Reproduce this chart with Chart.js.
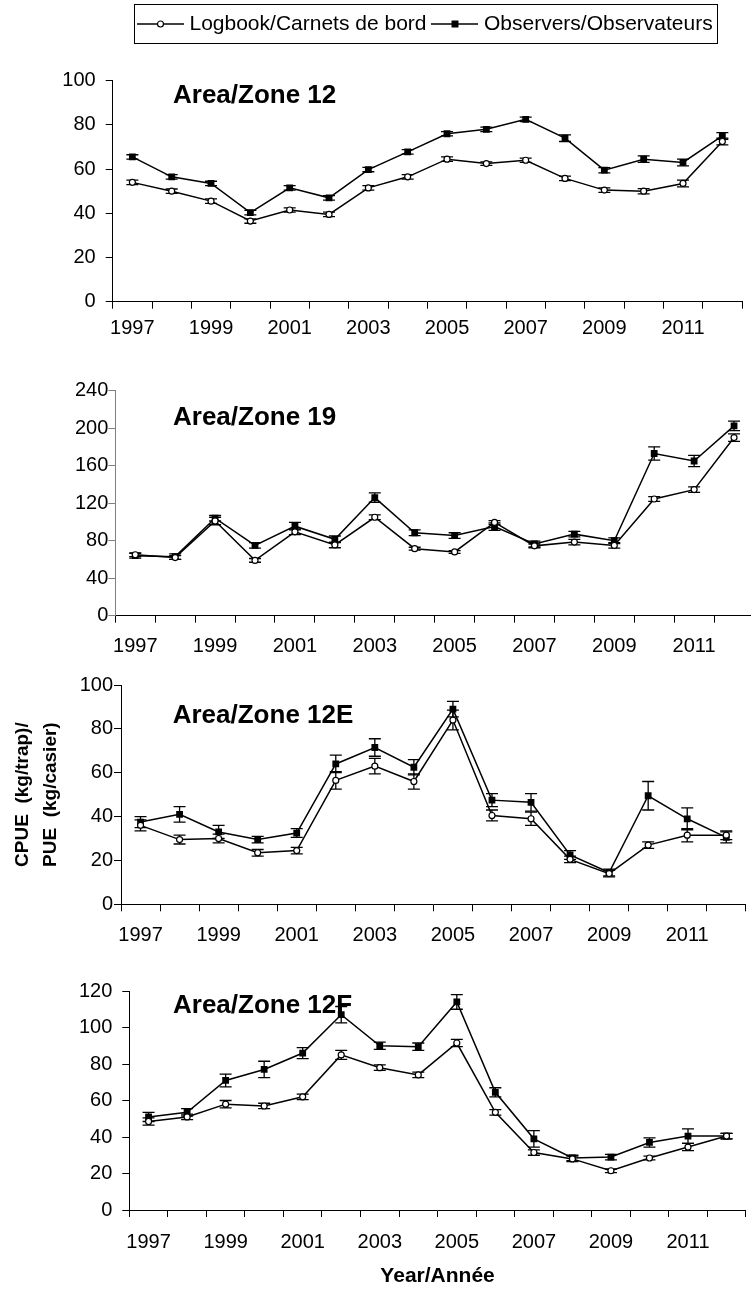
<!DOCTYPE html>
<html><head><meta charset="utf-8">
<script src="https://cdn.jsdelivr.net/npm/chart.js@4/dist/chart.umd.min.js"></script>
<style>
html,body{margin:0;padding:0;background:#fff;overflow:hidden;width:751px;height:1289px;}
.panel{position:absolute;left:0;}
canvas{display:block;}
</style></head><body>
<div class="panel" style="top:0px"><canvas id="c1" width="751" height="350"></canvas></div>
<div class="panel" style="top:350px"><canvas id="c2" width="760" height="310"></canvas></div>
<div class="panel" style="top:660px"><canvas id="c3" width="751" height="290"></canvas></div>
<div class="panel" style="top:950px"><canvas id="c4" width="751" height="339"></canvas></div>
<script>
// ---- data ----
const years = ['1997','1998','1999','2000','2001','2002','2003','2004','2005','2006','2007','2008','2009','2010','2011','2012'];
const shownYears = ['1997','1999','2001','2003','2005','2007','2009','2011'];
const seriesNames = ['Logbook/Carnets de bord', 'Observers/Observateurs'];
const panelTitles = ['Area/Zone 12', 'Area/Zone 19', 'Area/Zone 12E', 'Area/Zone 12F'];
const yAxisTitle = ['CPUE  (kg/trap)/', 'PUE  (kg/casier)'];
const xAxisTitle = 'Year/Année';

const log12 = [54, 50, 45.5, 36.5, 41.5, 39.5, 51.5, 56.5, 64.5, 62.5, 64, 55.8, 50.5, 50, 53.5, 72.5];
const obs12 = [65.5, 56.5, 53.5, 40.3, 51.5, 47, 59.8, 67.8, 76, 78, 82.5, 74, 59.5, 64.5, 63, 75];
const logErr12 = [1, 1, 1, 1, 1, 1, 1, 1, 1, 0.8, 1, 1, 1, 1.2, 1.5, 1.5];
const obsErr12 = [1, 1, 1, 1, 1, 1, 1, 1, 1, 1, 1, 1.5, 1.2, 1.5, 1.5, 1.5];

const log19 = [65, 62, 101, 59, 89.5, 75.5, 105, 71.5, 68, 99.5, 74.5, 78.5, 75, 124.5, 134.5, 190];
const obs19 = [64, 63, 104, 75, 95.5, 81.5, 126, 88.5, 85.5, 95, 76.5, 87, 80, 173, 165, 202.5];
const logErr19 = [2, 2, 4, 2, 3, 3, 2.5, 1.5, 1.5, 2, 2, 3, 3, 2.5, 3, 4];
const obsErr19 = [2.5, 3, 3, 3, 4, 3.5, 5, 3, 3, 4, 3, 3, 3, 7, 6, 5];

const log12E = [36, 29.5, 30, 23.5, 24.5, 56.5, 63, 56, 84, 40.5, 39, 20.5, 14, 27, 31.5, 31.5];
const obs12E = [37.5, 41, 33, 29.5, 32.5, 64, 71.5, 62.5, 89, 47.5, 46.5, 22.5, 14.5, 49.5, 39, 30.5];
const logErr12E = [2.5, 2, 2, 1.5, 1.5, 4, 3.5, 3.5, 4.5, 2.5, 3, 1.5, 1.5, 1.5, 3, 2];
const obsErr12E = [2.5, 3.5, 3, 1.5, 2, 4, 4, 3.5, 3.5, 3, 4, 2, 1.5, 6.5, 5, 2.5];

const log12F = [48.5, 51, 58, 57, 62, 85, 78, 74, 91.5, 53.5, 31.5, 28, 21.5, 28.5, 34.5, 40.5];
const obs12F = [51, 53.5, 71, 77, 86, 107, 90, 89.5, 114, 64.5, 39, 28.5, 29, 37, 40.5, 40.5];
const logErr12F = [2, 1.5, 2, 1.5, 1.5, 2.5, 1.5, 1.5, 2, 1.5, 1.5, 1.5, 1, 1, 2, 1.5];
const obsErr12F = [2.5, 2, 3.5, 4.5, 3, 4.5, 2, 2, 4, 2.5, 4.5, 1.5, 1.5, 2.5, 4, 1.5];

// ---- styling ----
const FONT = '"Liberation Sans", Arial, Helvetica, sans-serif';
Chart.defaults.font.family = FONT;
Chart.defaults.color = '#000';

function makeIcon(kind) {
  const c = document.createElement('canvas');
  c.width = 47; c.height = 14;
  const g = c.getContext('2d');
  g.strokeStyle = '#000'; g.lineWidth = 1.4;
  g.beginPath(); g.moveTo(0, 7); g.lineTo(47, 7); g.stroke();
  if (kind === 'circle') {
    g.fillStyle = '#fff'; g.lineWidth = 1.2;
    g.beginPath(); g.arc(23.5, 7, 3, 0, Math.PI * 2); g.fill(); g.stroke();
  } else {
    g.fillStyle = '#000'; g.fillRect(20, 3.5, 7, 7);
  }
  return c;
}
const legendIcons = [makeIcon('circle'), makeIcon('rect')];

const errorBarPlugin = {
  id: 'errorBars',
  beforeDatasetsDraw(chart) {
    const ctx = chart.ctx, ys = chart.scales.y;
    chart.data.datasets.forEach((ds, i) => {
      if (!ds.errorBars) return;
      const meta = chart.getDatasetMeta(i);
      ctx.save();
      ctx.strokeStyle = '#000'; ctx.lineWidth = 1.3;
      meta.data.forEach((pt, j) => {
        const v = ds.data[j], e = ds.errorBars[j];
        const yt = ys.getPixelForValue(v + e), yb = ys.getPixelForValue(v - e);
        const x = pt.x, hw = 6;
        ctx.beginPath();
        ctx.moveTo(x, yt); ctx.lineTo(x, yb);
        ctx.moveTo(x - hw, yt); ctx.lineTo(x + hw, yt);
        ctx.moveTo(x - hw, yb); ctx.lineTo(x + hw, yb);
        ctx.stroke();
      });
      ctx.restore();
    });
  }
};

const panelLabelPlugin = {
  id: 'panelLabel',
  afterDraw(chart, args, opts) {
    if (!opts || !opts.text) return;
    const {ctx, chartArea} = chart;
    ctx.save();
    ctx.font = 'bold 26px ' + FONT;
    ctx.fillStyle = '#000'; ctx.textBaseline = 'middle'; ctx.textAlign = 'left';
    ctx.fillText(opts.text, chartArea.left + opts.dx, chartArea.top + opts.dy);
    ctx.restore();
  }
};

const legendBoxPlugin = {
  id: 'legendBox',
  beforeUpdate(chart, args, opts) {
    const lg = chart.legend;
    if (lg && !lg._fixedFit) {
      const orig = lg.fit;
      lg.fit = function () { orig.call(this); this.height = opts.height; };
      lg._fixedFit = true;
    }
  },
  afterDraw(chart) {
    const hb = chart.legend && chart.legend.legendHitBoxes;
    if (!hb || !hb.length) return;
    const first = hb[0], last = hb[hb.length - 1];
    const ctx = chart.ctx;
    ctx.save();
    ctx.strokeStyle = '#000'; ctx.lineWidth = 1;
    const l = Math.round(first.left - 8) + 0.5, r = Math.round(last.left + last.width + 4) + 0.5;
    const t = Math.round(first.top - 10) + 0.5, b = Math.round(first.top + first.height + 8) + 0.5;
    ctx.strokeRect(l, t, r - l, b - t);
    ctx.restore();
  }
};

function makeDatasets(logVals, obsVals, logErr, obsErr) {
  return [
    {label: seriesNames[0], data: logVals, errorBars: logErr, borderColor: '#000', borderWidth: 1.5,
     pointStyle: 'circle', pointRadius: 3, pointBackgroundColor: '#fff', pointBorderColor: '#000',
     pointBorderWidth: 1.2, tension: 0, fill: false},
    {label: seriesNames[1], data: obsVals, errorBars: obsErr, borderColor: '#000', borderWidth: 1.5,
     pointStyle: 'rect', pointRadius: 4.8, pointBackgroundColor: '#000', pointBorderColor: '#000',
     pointBorderWidth: 0, tension: 0, fill: false}
  ];
}

function xScale(pad, height, extra) {
  return Object.assign({
    type: 'category', offset: true,
    grid: {offset: true, drawOnChartArea: false, drawTicks: true, tickLength: 7, color: '#000', lineWidth: 1},
    border: {display: true, color: '#000', width: 1},
    ticks: {autoSkip: false, maxRotation: 0, minRotation: 0, padding: pad, font: {size: 20}, color: '#000',
      callback: function (val) { const l = this.getLabelForValue(val); return shownYears.includes(l) ? l : ''; }},
    afterFit: s => { s.height = height; }
  }, extra || {});
}

function yScale(max, step, pad, width, color, extra) {
  return Object.assign({
    type: 'linear', min: 0, max: max,
    ticks: {stepSize: step, padding: pad, font: {size: 20}, color: '#000'},
    grid: {drawOnChartArea: false, drawTicks: true, tickLength: 7, color: color, lineWidth: 1},
    border: {display: true, color: color, width: 1},
    afterFit: s => { s.width = width; }
  }, extra || {});
}

function baseOptions(padding, scales, plugins) {
  return {
    responsive: false, animation: false, events: [],
    layout: {padding: padding},
    scales: scales,
    plugins: Object.assign({legend: {display: false}, tooltip: {enabled: false}}, plugins)
  };
}

Chart.register(errorBarPlugin, panelLabelPlugin);

// Panel 1 with legend
new Chart(document.getElementById('c1'), {
  type: 'line',
  data: {labels: years, datasets: makeDatasets(log12, obs12, logErr12, obsErr12)},
  options: baseOptions({top: 3.5, left: 0, right: 9, bottom: 0},
    {x: xScale(8, 48.3), y: yScale(100, 20, 10, 112.7, '#000')},
    {
      legend: {display: true, position: 'top', fullSize: false,
        labels: {padding: 10, usePointStyle: true, pointStyleWidth: 37, font: {size: 21}, color: '#000',
          generateLabels: (chart) => chart.data.datasets.map((ds, i) => ({
            text: ds.label, pointStyle: legendIcons[i], fillStyle: 'transparent', strokeStyle: 'transparent',
            lineWidth: 0, hidden: false, datasetIndex: i, fontColor: '#000'}))}},
      legendBox: {height: 77.2},
      panelLabel: {text: panelTitles[0], dx: 60.3, dy: 15}
    }),
  plugins: [legendBoxPlugin]
});

// Panel 2
new Chart(document.getElementById('c2'), {
  type: 'line',
  data: {labels: years, datasets: makeDatasets(log19, obs19, logErr19, obsErr19)},
  options: baseOptions({top: 40.7, left: 0, right: 6, bottom: 0},
    {x: xScale(12, 44.3), y: yScale(240, 40, 0, 115.3, '#808080')},
    {panelLabel: {text: panelTitles[1], dx: 57.7, dy: 27.3}})
});

// Panel 3 with y-axis title
new Chart(document.getElementById('c3'), {
  type: 'line',
  data: {labels: years, datasets: makeDatasets(log12E, obs12E, logErr12E, obsErr12E)},
  options: baseOptions({top: 25, left: 0, right: 3, bottom: 0},
    {x: xScale(12, 45.7),
     y: yScale(100, 20, 1, 121, '#000', {title: {display: true, text: yAxisTitle, color: '#000',
        font: {size: 19, weight: 'bold', lineHeight: 1.45}, padding: {top: 9, bottom: 0}}})},
    {panelLabel: {text: panelTitles[2], dx: 51.7, dy: 30.8}})
});

// Panel 4 with x-axis title
new Chart(document.getElementById('c4'), {
  type: 'line',
  data: {labels: years, datasets: makeDatasets(log12F, obs12F, logErr12F, obsErr12F)},
  options: baseOptions({top: 41, left: 0, right: 1, bottom: 0},
    {x: xScale(13, 79, {title: {display: true, text: xAxisTitle, color: '#000',
        font: {size: 21, weight: 'bold'}, padding: {top: 0, bottom: 0}}}),
     y: yScale(120, 20, 10, 129.3, '#000')},
    {panelLabel: {text: panelTitles[3], dx: 43.7, dy: 15}})
});
</script>
</body></html>
